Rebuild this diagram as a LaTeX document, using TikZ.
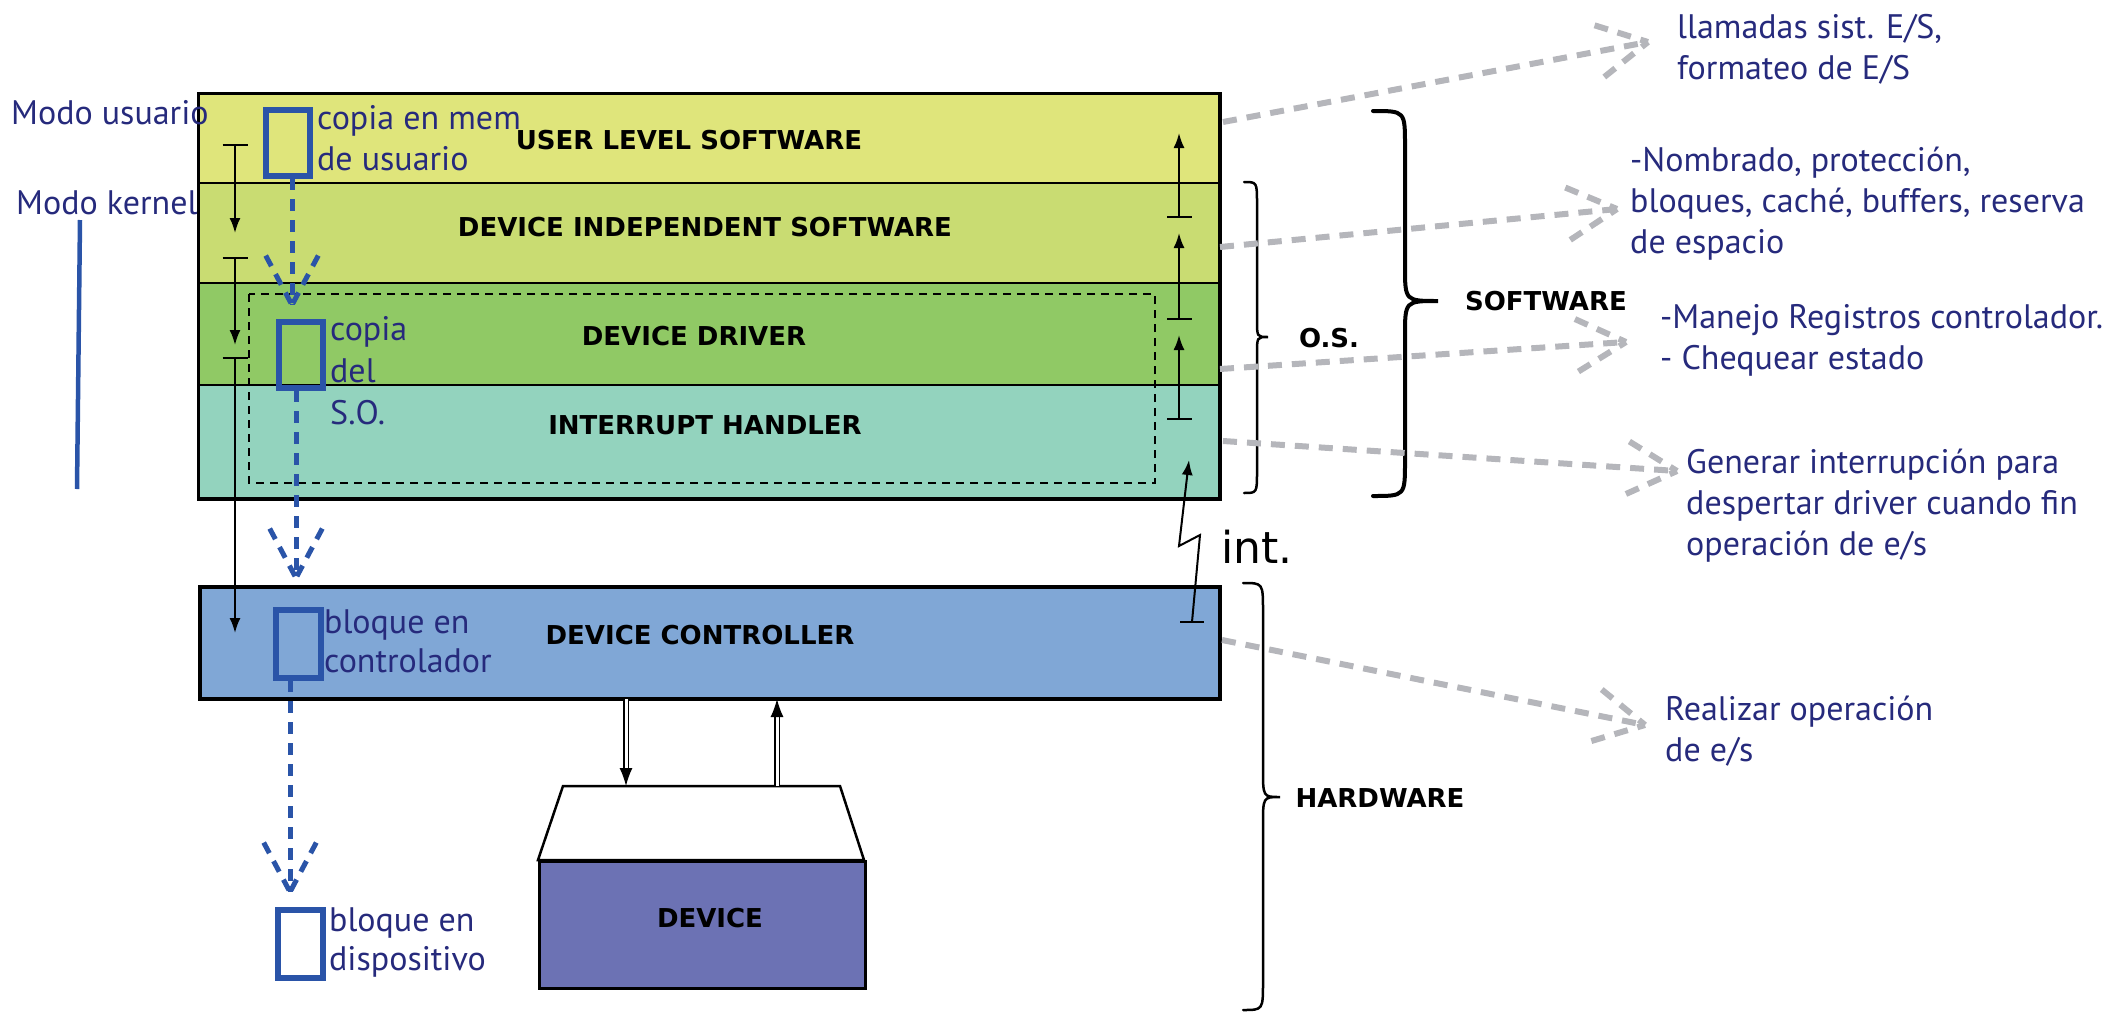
\documentclass[tikz,border=0pt]{standalone}
\usepackage{fontspec}
\usetikzlibrary{calc,arrows.meta}
\newfontfamily\lblfont{DejaVu Sans}
\newfontfamily\notefont{PT Sans}
\newfontfamily\intfont{DejaVu Sans}
\definecolor{userc}{HTML}{DFE57B}
\definecolor{indepc}{HTML}{C9DC72}
\definecolor{driverc}{HTML}{90C965}
\definecolor{handlerc}{HTML}{93D3BE}
\definecolor{ctrlc}{HTML}{80A7D6}
\definecolor{devc}{HTML}{6C72B4}
\definecolor{navy}{HTML}{262A7C}
\definecolor{bluec}{HTML}{2A54A8}
\definecolor{grayc}{HTML}{B5B6BB}
% dashed line ending in a dashed open V head
\newcommand\dasharrow[3]{%
  \draw[#1] (#2) -- (#3);
  \draw[#1] ($(#3)!56pt!28:(#2)$) -- (#3);
  \draw[#1] ($(#3)!56pt!-28:(#2)$) -- (#3);}
\begin{document}
\begin{tikzpicture}[x=1pt,y=-1pt,
  layer/.style={draw=black, line width=2pt, minimum width=1020pt, inner sep=0pt, anchor=north west},
  lbl/.style={font=\lblfont\bfseries\fontsize{26}{30}\selectfont, text=black, inner sep=0pt},
  note/.style={font=\notefont\fontsize{34}{41}\selectfont, text=navy, align=left, anchor=west, inner sep=0pt},
  blk/.style={rectangle, draw=bluec, line width=5.5pt, inner sep=0pt, anchor=north west},
  tarrow/.style={line width=2pt, {Bar[width=25pt,line width=2pt]}-{Latex[length=15pt,width=11pt]}},
  grayline/.style={draw=grayc, line width=6pt, dash pattern=on 14pt off 10pt},
  blueline/.style={draw=bluec, line width=5pt, dash pattern=on 12pt off 9pt},
  dblarrow/.style={line width=1.3pt, double, double distance=3pt, -{Latex[length=18pt,width=13pt]}},
  bracec/.style={draw=black, line width=2.5pt, line cap=round}]
\useasboundingbox (0,0) rectangle (2118,1012);

% ---- layered software stack ----
\node[layer, fill=userc,    minimum height=89pt]  (user)    at (198,93)  {};
\node[layer, fill=indepc,   minimum height=100pt] (indep)   at (198,182) {};
\node[layer, fill=driverc,  minimum height=102pt] (driver)  at (198,282) {};
\node[layer, fill=handlerc, minimum height=113pt] (handler) at (198,384) {};
\draw[line width=3pt] (user.north west) rectangle (handler.south east);
\draw[line width=2pt, dash pattern=on 8pt off 6pt] (249,294) rectangle (1155,483);

% ---- controller and device ----
\node[layer, fill=ctrlc, line width=3.5pt, minimum height=112pt] (ctrl) at (198,585) {};
\draw[line width=2.5pt, fill=white] (563,786) coordinate (trapL) -- (840,786) coordinate (trapR)
  -- (864,860) -- (538,860) -- cycle;
\node[draw=black, fill=devc, line width=2.5pt, minimum width=326pt, minimum height=127pt,
  inner sep=0pt, anchor=north west] (device) at (538,860) {};

\coordinate (dn1) at (626,699); \coordinate (dn2) at (626,786);
\coordinate (up1) at (777,786); \coordinate (up2) at (777,699);
\draw[dblarrow] (dn1) -- (dn2);
\draw[dblarrow] (up1) -- (up2);

% ---- user/kernel mode transitions (left) ----
\coordinate (ma1) at (235,144); \coordinate (ma2) at (235,233);
\coordinate (mb1) at (235,257); \coordinate (mb2) at (235,345);
\coordinate (mc1) at (235,357); \coordinate (mc2) at (235,633);
\draw[tarrow] (ma1) -- (ma2);
\draw[tarrow] (mb1) -- (mb2);
\draw[tarrow] (mc1) -- (mc2);

% ---- returns up the stack (right) ----
\coordinate (ra1) at (1179,218); \coordinate (ra2) at (1179,133);
\coordinate (rb1) at (1179,320); \coordinate (rb2) at (1179,233);
\coordinate (rc1) at (1179,420); \coordinate (rc2) at (1179,335);
\draw[tarrow] (ra1) -- (ra2);
\draw[tarrow] (rb1) -- (rb2);
\draw[tarrow] (rc1) -- (rc2);

% interrupt line
\coordinate (i1) at (1192,622); \coordinate (i2) at (1200,535);
\coordinate (i3) at (1179,546); \coordinate (i4) at (1189,460);
\draw[line width=2pt] (1180,622) -- (1204,622);
\draw[line width=2pt, -{Latex[length=15pt,width=11pt]}] (i1) -- (i2) -- (i3) -- (i4);
\node[font=\intfont\fontsize{44}{48}\selectfont, anchor=base west, inner sep=0pt] (tint) at (1221,563) {int.};

% ---- data block copies ----
\node[blk, minimum width=44pt, minimum height=66pt] (b1) at (263,107) {};
\node[blk, minimum width=44pt, minimum height=66pt] (b2) at (276,319) {};
\node[blk, minimum width=45pt, minimum height=68pt] (b3) at (273,607) {};
\node[blk, minimum width=45pt, minimum height=68pt] (b4) at (275,907) {};
\coordinate (s1a) at (292,178); \coordinate (s1b) at (292,305);
\coordinate (s2a) at (296,390); \coordinate (s2b) at (296,578);
\coordinate (s3a) at (290,680); \coordinate (s3b) at (290,892);
\dasharrow{blueline}{s1a}{s1b}
\dasharrow{blueline}{s2a}{s2b}
\dasharrow{blueline}{s3a}{s3b}

% mode bar
\coordinate (mode1) at (80,220); \coordinate (mode2) at (77,489);
\draw[bluec, line width=4.5pt] (mode1) -- (mode2);

% ---- braces ----
\draw[bracec] (1244,182) .. controls (1257,182) .. (1257,204) -- (1257,320)
  .. controls (1257,337) .. (1268,337) .. controls (1257,337) .. (1257,354)
  -- (1257,471) .. controls (1257,493) .. (1244,493);
\draw[bracec, line width=4pt] (1373,111) .. controls (1405,111) .. (1405,146) -- (1405,266)
  .. controls (1405,301) .. (1438,301) .. controls (1405,301) .. (1405,336)
  -- (1405,461) .. controls (1405,496) .. (1373,496);
\draw[bracec] (1243,583) .. controls (1263,583) .. (1263,611) -- (1263,769)
  .. controls (1263,797) .. (1280,797) .. controls (1263,797) .. (1263,825)
  -- (1263,982) .. controls (1263,1010) .. (1243,1010);

% ---- gray pointers to the descriptions ----
\coordinate (g1s) at (1223,122); \coordinate (g1t) at (1648,42);
\coordinate (g2s) at (1220,247); \coordinate (g2t) at (1617,209);
\coordinate (g3s) at (1220,369); \coordinate (g3t) at (1626,342);
\coordinate (g4s) at (1223,441); \coordinate (g4t) at (1677,471);
\coordinate (g5s) at (1222,640); \coordinate (g5t) at (1645,725);
\dasharrow{grayline}{g1s}{g1t}
\dasharrow{grayline}{g2s}{g2t}
\dasharrow{grayline}{g3s}{g3t}
\dasharrow{grayline}{g4s}{g4t}
\dasharrow{grayline}{g5s}{g5t}

% ---- layer labels ----
\node[lbl] (tuser)    at (689,140) {USER LEVEL SOFTWARE};
\node[lbl] (tindep)   at (705,227) {DEVICE INDEPENDENT SOFTWARE};
\node[lbl] (tdriver)  at (694,336) {DEVICE DRIVER};
\node[lbl] (thandler) at (705,425) {INTERRUPT HANDLER};
\node[lbl] (tctrl)    at (700,635) {DEVICE CONTROLLER};
\node[lbl] (tdev)     at (710,918) {DEVICE};
\node[lbl] (tos)      at (1329,338) {O.S.};
\node[lbl] (tsw)      at (1546,301) {SOFTWARE};
\node[lbl] (thw)      at (1380,798) {HARDWARE};

% ---- annotations ----
\node[note] (nuser)   at (11,113)  {Modo usuario};
\node[note] (nkern)   at (16,203)  {Modo kernel};
\node[note] (nb1)     at (317,138) {copia en mem\\de usuario};
\node[note, font=\notefont\fontsize{34}{42}\selectfont] (nb2) at (330,371) {copia\\del\\S.O.};
\node[note, font=\notefont\fontsize{34}{39}\selectfont] (nb3) at (324,641) {bloque en\\controlador};
\node[note, font=\notefont\fontsize{34}{39}\selectfont] (nb4) at (329,942) {bloque en\\dispositivo};
\node[note] (d1) at (1677,49)  {llamadas sist. E/S,\\formateo de E/S};
\node[note] (d2) at (1630,204) {-Nombrado, protección,\\bloques, caché, buffers, reserva\\de espacio};
\node[note] (d3) at (1660,340) {-Manejo Registros controlador.\\- Chequear estado};
\node[note] (d4) at (1686,506) {Generar interrupción para\\despertar driver cuando fin\\operación de e/s};
\node[note] (d5) at (1665,731) {Realizar operación\\de e/s};
\end{tikzpicture}
\end{document}
